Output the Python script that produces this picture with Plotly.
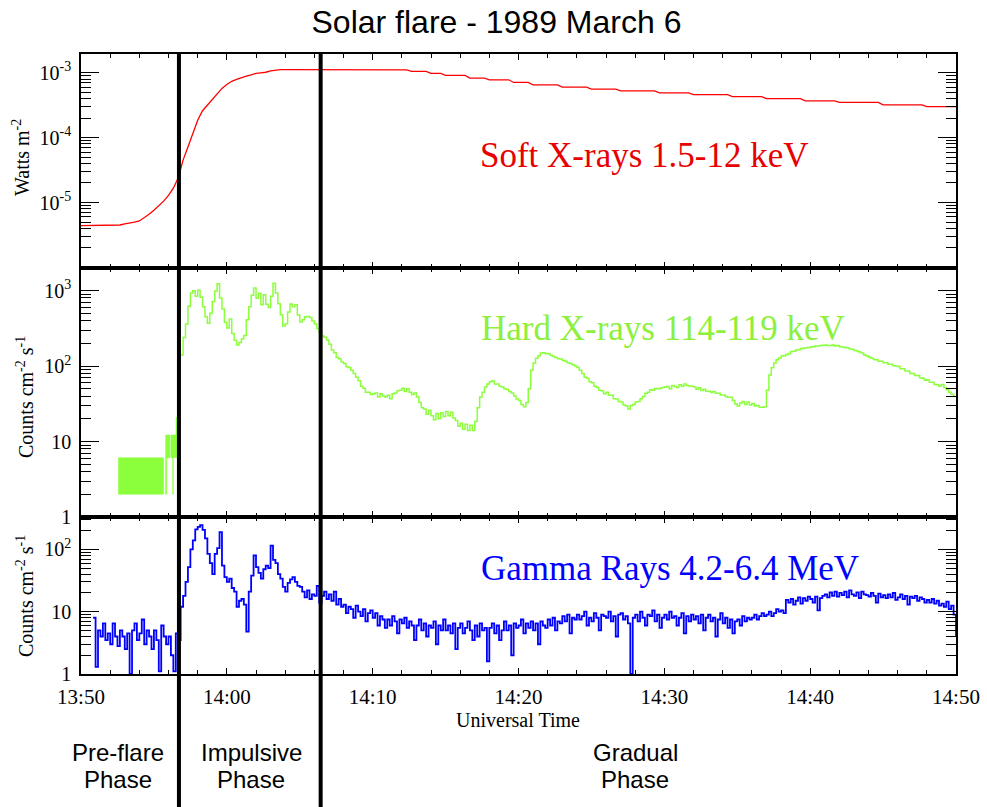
import pandas as pd
import plotly.graph_objects as go

DATE = "1989-03-06"
T_START = f"{DATE} 13:50:00"
T_END = f"{DATE} 14:50:00"

# Soft X-rays 1.5-12 keV: 20 s samples from 13:50:00, in units of 1e-6 W m^-2
sxr_start = "13:50:00"
sxr_cadence = "20s"
sxr_flux_uw = [
    4.4, 4.4, 4.4,        # 13:50
    4.4, 4.4, 4.4,        # 13:51
    4.4, 4.4, 4.5,        # 13:52
    4.7, 4.8, 5.0,        # 13:53
    5.2, 5.8, 6.6,        # 13:54
    7.6, 8.9, 10.5,       # 13:55
    12.9, 16.6, 24.0,     # 13:56
    45.0, 72.0, 112.0,    # 13:57
    186.0, 260.0, 320.0,  # 13:58
    390.0, 480.0, 575.0,  # 13:59
    660.0, 740.0, 790.0,  # 14:00
    850.0, 890.0, 930.0,  # 14:01
    980.0, 1000.0, 1020.0,  # 14:02
    1070.0, 1100.0, 1120.0,  # 14:03
    1120.0, 1120.0, 1120.0,  # 14:04
    1120.0, 1120.0, 1120.0,  # 14:05
    1120.0, 1120.0, 1120.0,  # 14:06
    1120.0, 1120.0, 1120.0,  # 14:07
    1120.0, 1120.0, 1120.0,  # 14:08
    1120.0, 1120.0, 1120.0,  # 14:09
    1120.0, 1120.0, 1120.0,  # 14:10
    1120.0, 1120.0, 1110.0,  # 14:11
    1110.0, 1110.0, 1050.0,  # 14:12
    1050.0, 1050.0, 1050.0,  # 14:13
    980.0, 980.0, 980.0,  # 14:14
    910.0, 910.0, 910.0,  # 14:15
    910.0, 910.0, 830.0,  # 14:16
    830.0, 830.0, 830.0,  # 14:17
    780.0, 780.0, 780.0,  # 14:18
    780.0, 780.0, 710.0,  # 14:19
    710.0, 710.0, 710.0,  # 14:20
    650.0, 650.0, 650.0,  # 14:21
    650.0, 650.0, 650.0,  # 14:22
    600.0, 600.0, 600.0,  # 14:23
    600.0, 600.0, 600.0,  # 14:24
    560.0, 560.0, 560.0,  # 14:25
    560.0, 560.0, 560.0,  # 14:26
    525.0, 525.0, 525.0,  # 14:27
    525.0, 525.0, 525.0,  # 14:28
    525.0, 525.0, 490.0,  # 14:29
    490.0, 490.0, 490.0,  # 14:30
    490.0, 490.0, 490.0,  # 14:31
    460.0, 460.0, 460.0,  # 14:32
    460.0, 460.0, 460.0,  # 14:33
    460.0, 460.0, 430.0,  # 14:34
    430.0, 430.0, 430.0,  # 14:35
    430.0, 430.0, 430.0,  # 14:36
    400.0, 400.0, 400.0,  # 14:37
    400.0, 400.0, 400.0,  # 14:38
    400.0, 400.0, 370.0,  # 14:39
    370.0, 370.0, 370.0,  # 14:40
    370.0, 370.0, 370.0,  # 14:41
    350.0, 350.0, 350.0,  # 14:42
    350.0, 350.0, 350.0,  # 14:43
    350.0, 350.0, 350.0,  # 14:44
    320.0, 320.0, 320.0,  # 14:45
    320.0, 320.0, 320.0,  # 14:46
    320.0, 320.0, 320.0,  # 14:47
    300.0, 300.0, 300.0,  # 14:48
    300.0, 300.0, 300.0,  # 14:49
    300.0,                # 14:50
]

# Hard X-rays 114-119 keV: 10 s samples from 13:56:50, counts cm^-2 s^-1
hxr_start = "13:56:50"
hxr_cadence = "10s"
hxr_rate = [
    140,                                   # 13:56:50
    240, 360, 620, 930, 1000, 840,         # 13:57
    1010, 820, 610, 450, 370, 500,         # 13:58
    720, 990, 1230, 800, 570, 380,         # 13:59
    320, 420, 270, 220, 190, 205,          # 14:00
    230, 255, 410, 610, 870, 1080,         # 14:01
    790, 920, 650, 880, 660, 600,          # 14:02
    840, 1250, 930, 670, 480, 340,         # 14:03
    365, 520, 665, 610, 650, 475,          # 14:04
    385, 410, 450, 455, 440, 395,          # 14:05
    365, 315, 280, 250, 242, 222,          # 14:06
    195, 164, 150, 130, 125, 113,          # 14:07
    108, 98, 96, 88, 80, 71,               # 14:08
    64, 54, 51, 45, 45, 42,                # 14:09
    43, 44, 39, 43, 40, 39,                # 14:10
    41, 37, 43, 44, 47, 48,                # 14:11
    51, 46, 50, 45, 42, 44,                # 14:12
    39, 33, 28, 27, 23, 26,                # 14:13
    22, 19.5, 23.5, 20, 24, 21.5,          # 14:14
    25, 22, 24.5, 20.5, 19, 16,            # 14:15
    17.5, 14.5, 17, 14, 16.5, 14,          # 14:16
    18.5, 28, 39, 45, 53, 58,              # 14:17
    62, 64, 58, 58, 54, 53,                # 14:18
    50, 49, 46, 44, 40, 36.5,              # 14:19
    35, 31, 29, 33, 50, 88,                # 14:20
    110, 127, 137, 149, 150, 146,          # 14:21
    147, 139, 134, 130, 125, 124,          # 14:22
    119, 116, 111, 108, 104, 100,          # 14:23
    96, 88, 80, 71, 69, 62,                # 14:24
    60, 54, 52, 48, 47, 43,                # 14:25
    45, 41, 41, 37, 36.5, 34,              # 14:26
    33.5, 30.5, 29.5, 27, 30, 31,          # 14:27
    33.5, 34, 37, 39.5, 43.5, 45,          # 14:28
    48.5, 48, 50.5, 50, 51, 52,            # 14:29
    53, 53.5, 50, 55.5, 53.5, 52,          # 14:30
    56.5, 54, 58, 55.5, 54.5, 54,          # 14:31
    53, 49.5, 51.5, 47.5, 49.5, 46.5,      # 14:32
    46.5, 44.5, 46, 43.5, 43.5, 41.5,      # 14:33
    41.5, 39.5, 38.5, 38.5, 35, 31.5,      # 14:34
    29.5, 32.5, 34, 31, 33.5, 30.5,        # 14:35
    32, 29.5, 30, 28.5, 28.5, 29,          # 14:36
    48, 76, 95, 110, 121, 128,             # 14:37
    136, 137, 142, 147, 156, 157,          # 14:38
    163, 165, 171, 173, 175, 177,          # 14:39
    179, 181, 184, 185, 187, 189,          # 14:40
    191, 188, 187, 190, 185, 187,          # 14:41
    181, 179, 176, 175, 169, 167,          # 14:42
    161, 159, 154, 149, 140, 136,          # 14:43
    131, 127, 122, 121, 116, 116,          # 14:44
    111, 111, 106, 106, 101, 100,          # 14:45
    99, 92, 92, 86, 86, 80,                # 14:46
    80, 75, 75, 70, 69, 65,                # 14:47
    66, 61, 61, 57, 56.5, 54,              # 14:48
    57, 52, 48.5, 45, 42.5, 39.5,          # 14:49
    39,                                    # 14:50
]

# Pre-flare hard X-ray count-rate ranges (low counting statistics)
hxr_pre_from = ["13:52:34", "13:55:48", "13:55:53", "13:56:10", "13:56:17", "13:56:20", "13:56:31"]
hxr_pre_to   = ["13:55:40", "13:55:53", "13:56:06", "13:56:20", "13:56:20", "13:56:31", "13:56:37"]
hxr_pre_lo   = [2.0, 2.0, 6.1, 6.1, 2.0, 6.1, 6.1]
hxr_pre_hi   = [6.1, 12.2, 12.2, 12.2, 12.2, 12.2, 21.0]

# Gamma rays 4.2-6.4 MeV: 10 s samples from 13:50:50, counts cm^-2 s^-1
gam_start = "13:50:50"
gam_cadence = "10s"
gam_rate = [
    8.0,                                   # 13:50:50
    1.3, 5.0, 4.0, 6.5, 3.5, 4.5,          # 13:51
    3.0, 6.5, 4.0, 2.8, 5.0, 4.0,          # 13:52
    2.5, 4.5, 1.0, 5.0, 6.5, 3.5,          # 13:53
    4.5, 7.5, 3.0, 5.0, 4.0, 2.5,          # 13:54
    5.0, 3.5, 1.1, 6.0, 4.0, 3.0,          # 13:55
    4.0, 2.0, 1.1, 4.5, 3.5, 12,           # 13:56
    18, 30, 52, 100, 140, 210,             # 13:57
    230, 245, 205, 150, 85, 60,            # 13:58
    40, 85, 105, 190, 55, 36,              # 13:59
    30, 34, 24, 21, 12, 15,                # 14:00
    16, 13, 4.8, 21, 38, 80,               # 14:01
    52, 42, 34, 48, 55, 50,                # 14:02
    115, 68, 60, 40, 34, 25,               # 14:03
    21, 29, 33, 36, 30, 26,                # 14:04
    25, 21, 17, 22, 16, 19,                # 14:05
    18, 26, 14, 18, 21, 16,                # 14:06
    19, 15, 21, 13, 16, 12,                # 14:07
    13, 9.5, 12, 11, 8, 12.5,              # 14:08
    10, 8.5, 11, 7, 9.5, 10.5,             # 14:09
    8, 9.5, 6, 8.5, 7.5, 5.5,              # 14:10
    7.5, 6, 8.5, 7, 4.5, 7.5,              # 14:11
    6.5, 8, 5.5, 7, 6, 3.5,                # 14:12
    6, 7.5, 5, 6.5, 4, 6,                  # 14:13
    5.5, 7, 3, 6, 5, 7.5,                  # 14:14
    5, 6, 4.5, 6.5, 2.5, 5.5,              # 14:15
    6.5, 4.5, 5.5, 7, 5, 3.5,              # 14:16
    6, 4, 6.5, 5, 5.5, 1.6,                # 14:17
    5.5, 6.5, 4.5, 6, 3.5, 5,              # 14:18
    7, 5, 6, 2, 6.5, 5.5,                  # 14:19
    6, 7.5, 4.5, 6.5, 5.5, 7,              # 14:20
    5, 6.5, 3, 7, 6, 5.5,                  # 14:21
    7.5, 6, 8, 5, 7, 6.5,                  # 14:22
    8.5, 7, 9, 4.5, 8, 7.5,                # 14:23
    9, 7.5, 8.5, 10, 6, 8,                 # 14:24
    7, 9.5, 8, 5, 9, 8.5,                  # 14:25
    8, 10, 7, 8.5, 4, 9,                   # 14:26
    9.5, 7.5, 8.5, 6.5, 1.0, 8,            # 14:27
    9, 7, 10, 8, 6, 9,                     # 14:28
    8.5, 10.5, 7, 9, 5.5, 8,               # 14:29
    9, 7.5, 10, 8, 8.5, 6,                 # 14:30
    8, 9.5, 4.5, 8.5, 7, 9,                # 14:31
    7.5, 8.5, 6.5, 9, 5, 8,                # 14:32
    9, 7, 8, 4, 7.5, 9.5,                  # 14:33
    6.5, 8, 5.5, 7.5, 4.5, 7,              # 14:34
    7.5, 6, 8.5, 7, 8, 7.5,                # 14:35
    8, 9, 7.5, 8.5, 9.5, 8.5,              # 14:36
    9, 10, 8.5, 9.5, 11, 10,               # 14:37
    10.5, 9.5, 15.5, 14, 16, 13,           # 14:38
    15, 17, 13.5, 16.5, 15, 17.5,          # 14:39
    16, 14, 17.5, 10.5, 16.5, 18,          # 14:40
    19, 17, 20.5, 18, 21, 17.5,            # 14:41
    20, 18.5, 21, 17, 22, 19,              # 14:42
    18, 20.5, 16.5, 21, 19, 18.5,          # 14:43
    17.5, 20, 18, 14, 19.5, 17,            # 14:44
    18.5, 16.5, 19, 17, 20, 15.5,          # 14:45
    17, 19, 16, 18, 13, 17.5,              # 14:46
    16.5, 18, 15, 17, 16, 14,              # 14:47
    15.5, 14, 16, 13.5, 15, 12.5,          # 14:48
    13.5, 12, 14.5, 11, 12.5, 9,           # 14:49
    4,                                     # 14:50
]

# Phase boundaries and labels
phase_bounds = ["13:56:43", "14:06:26"]
phase_line1 = ["Pre-flare", "Impulsive", "Gradual"]
phase_line2 = ["Phase", "Phase", "Phase"]

series_labels = ["Soft X-rays 1.5-12 keV", "Hard X-rays 114-119 keV", "Gamma Rays 4.2-6.4 MeV"]
y_titles = ["Watts m<sup>-2</sup>", "Counts cm<sup>-2</sup> s<sup>-1</sup>", "Counts cm<sup>-2</sup> s<sup>-1</sup>"]
y_tickvals = [[1e-5, 1e-4, 1e-3], [1, 10, 100, 1000], [1, 10, 100]]
y_ticktext = [["10<sup>-5</sup>", "10<sup>-4</sup>", "10<sup>-3</sup>"],
              ["1", "10", "10<sup>2</sup>", "10<sup>3</sup>"],
              ["1", "10", "10<sup>2</sup>"]]
y_log_ranges = [[-6.01, -2.71], [0.0, 3.30], [0.0, 2.52]]
x_ticks_every_min = 10
x_minor_every_min = 2

RED = "#ff0000"
RED_TXT = "#e80000"
GREEN = "#8cff3c"
GREEN_TXT = "#8cf03c"
BLUE = "#0000ff"

W, H = 987, 807
SERIF = "Liberation Serif"
SANS = "Liberation Sans"


def ts(hms):
    return pd.Timestamp(f"{DATE} {hms}")


def px(x):
    return x / W


def py(y):
    return 1 - y / H


sxr_t = pd.date_range(ts(sxr_start), periods=len(sxr_flux_uw), freq=sxr_cadence)
sxr_w = [v * 1e-6 for v in sxr_flux_uw]
hxr_t = pd.date_range(ts(hxr_start), periods=len(hxr_rate), freq=hxr_cadence)
gam_t = pd.date_range(ts(gam_start), periods=len(gam_rate), freq=gam_cadence)

# closed boxes for the pre-flare count ranges
box_x, box_y = [], []
for a, b, lo, hi in zip(hxr_pre_from, hxr_pre_to, hxr_pre_lo, hxr_pre_hi):
    box_x += [ts(a), ts(b), ts(b), ts(a), ts(a), None]
    box_y += [lo, lo, hi, hi, lo, None]

fig = go.Figure()
fig.add_trace(go.Scatter(x=sxr_t, y=sxr_w, mode="lines", line=dict(color=RED, width=1.3),
                         xaxis="x", yaxis="y", showlegend=False))
fig.add_trace(go.Scatter(x=box_x, y=box_y, mode="lines", fill="toself", fillcolor=GREEN,
                         line=dict(color=GREEN, width=0.5), xaxis="x2", yaxis="y2", showlegend=False))
fig.add_trace(go.Scatter(x=hxr_t, y=hxr_rate, mode="lines", line=dict(color=GREEN, width=1.5, shape="hv"),
                         xaxis="x2", yaxis="y2", showlegend=False))
fig.add_trace(go.Scatter(x=gam_t, y=gam_rate, mode="lines", line=dict(color=BLUE, width=1.8, shape="hv"),
                         xaxis="x3", yaxis="y3", showlegend=False))

x_dom = [px(81), px(956)]
y_doms = [[py(268), py(54)], [py(517), py(268)], [py(674), py(517)]]

axis_font = dict(family=SERIF, size=21, color="black")
for i in range(3):
    k = "" if i == 0 else str(i + 1)
    xa = dict(
        domain=x_dom, anchor="y" + k, type="date", range=[T_START, T_END],
        showline=True, linecolor="black", linewidth=1.5, mirror="allticks",
        ticks="inside", ticklen=6, tickwidth=1.3, tickcolor="black",
        tick0=T_START, dtick=x_ticks_every_min * 60000, tickformat="%H:%M",
        minor=dict(dtick=x_minor_every_min * 60000, ticks="inside", ticklen=4,
                   tickwidth=1.1, tickcolor="black", showgrid=False),
        showgrid=False, zeroline=False, tickfont=axis_font, automargin=False,
        showticklabels=(i == 2), ticklabelstandoff=3,
    )
    if i > 0:
        xa["matches"] = "x"
    lo_dec = int(round(y_log_ranges[i][0] - 0.5))
    hi_dec = int(round(y_log_ranges[i][1] + 0.5))
    minor_vals = [m * 10.0 ** d for d in range(lo_dec, hi_dec + 1) for m in range(2, 10)]
    ya = dict(
        domain=y_doms[i], anchor="x" + k, type="log", range=y_log_ranges[i],
        showline=True, linecolor="black", linewidth=1.5, mirror="allticks",
        ticks="inside", ticklen=18, tickwidth=1.3, tickcolor="black",
        tickvals=y_tickvals[i], ticktext=y_ticktext[i],
        minor=dict(tickvals=minor_vals, ticks="inside", ticklen=10, tickwidth=1.1,
                   tickcolor="black", showgrid=False),
        showgrid=False, zeroline=False, tickfont=dict(family=SERIF, size=20, color="black"),
        automargin=False, ticklabelstandoff=4,
    )
    fig.layout["xaxis" + k] = xa
    fig.layout["yaxis" + k] = ya

annotations = []
# y-axis titles
for (xc, yc), txt in zip([(21, 158), (25, 397), (25, 596)], y_titles):
    annotations.append(dict(x=px(xc), y=py(yc), xref="paper", yref="paper", text=txt,
                            textangle=-90, showarrow=False, xanchor="center", yanchor="middle",
                            font=dict(family=SERIF, size=20, color="black")))
# series labels
for (xc, yc), txt, col in zip([(644, 155), (663, 328), (670, 568)], series_labels,
                              [RED_TXT, GREEN_TXT, BLUE]):
    annotations.append(dict(x=px(xc), y=py(yc), xref="paper", yref="paper", text=txt,
                            showarrow=False, xanchor="center", yanchor="middle",
                            font=dict(family=SERIF, size=35, color=col)))
# x-axis title
annotations.append(dict(x=px(518), y=py(720), xref="paper", yref="paper", text="Universal Time",
                        showarrow=False, xanchor="center", yanchor="middle",
                        font=dict(family=SERIF, size=20, color="black")))
# phase labels
for xc, l1, l2 in zip([118, 251, 635], phase_line1, phase_line2):
    for yc, txt in ((752, l1), (779, l2)):
        annotations.append(dict(x=px(xc), y=py(yc), xref="paper", yref="paper", text=txt,
                                showarrow=False, xanchor="center", yanchor="middle",
                                font=dict(family=SANS, size=24, color="black")))

shapes = []
for b in phase_bounds:
    shapes.append(dict(type="line", xref="x3", yref="paper", x0=ts(b), x1=ts(b),
                       y0=0, y1=py(54), line=dict(color="black", width=4), layer="above"))

fig.update_layout(
    width=W, height=H, margin=dict(l=0, r=0, t=0, b=0, autoexpand=False),
    paper_bgcolor="white", plot_bgcolor="white",
    title=dict(text="Solar flare - 1989 March 6", x=0.503, xanchor="center",
               y=py(22), yanchor="middle", font=dict(family=SANS, size=32, color="black")),
    annotations=annotations, shapes=shapes, showlegend=False,
)

fig.write_html("out.html")
